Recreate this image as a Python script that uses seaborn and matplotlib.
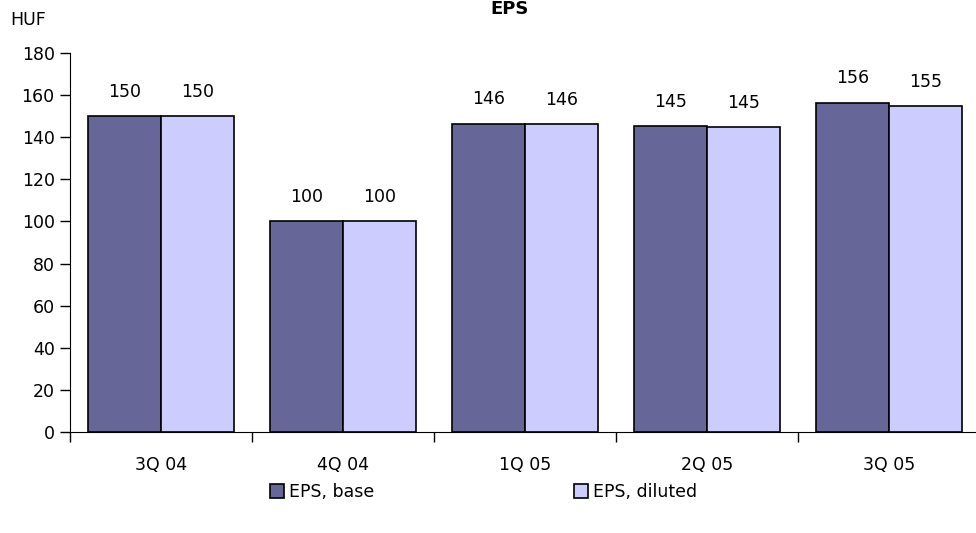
import seaborn as sns
import matplotlib.pyplot as plt
import pandas as pd

sns.set_style("ticks")
plt.rcParams['font.family'] = ['DejaVu Sans']
plt.rcParams['text.color'] = 'black'
plt.rcParams['xtick.color'] = 'black'
plt.rcParams['ytick.color'] = 'black'

# data
quarters = ["3Q 04", "4Q 04", "1Q 05", "2Q 05", "3Q 05"]
eps_base = [150.0, 100.0, 146.4, 145.4, 156.4]
eps_diluted = [150.0, 100.0, 146.3, 144.8, 154.8]
series_names = ["EPS, base", "EPS, diluted"]
colors = ["#666699", "#CCCCFF"]

df = pd.DataFrame({
    "quarter": quarters * 2,
    "value": eps_base + eps_diluted,
    "series": [series_names[0]] * len(quarters) + [series_names[1]] * len(quarters),
})

fig = plt.figure(figsize=(9.76, 5.33), dpi=100)
ax = fig.add_axes([70 / 976, 1 - 432 / 533, 910 / 976, (432 - 53) / 533])

sns.barplot(data=df, x="quarter", y="value", hue="series", palette=colors,
            width=0.8, edgecolor="black", linewidth=1.2, saturation=1, ax=ax)

# value labels
for cont in ax.containers:
    ax.bar_label(cont, labels=[f"{v:.0f}" for v in cont.datavalues],
                 padding=11, fontsize=12.5, color="black")

ax.set_ylim(0, 180)
ax.set_xlim(-0.5, len(quarters) - 0.5)
ax.set_yticks(range(0, 181, 20))
ax.set_xticks([i - 0.5 for i in range(len(quarters))], minor=False)
ax.set_xticklabels([])
ax.set_xticks(range(len(quarters)), minor=True)
ax.set_xticklabels(quarters, minor=True)
ax.tick_params(axis="x", which="major", bottom=True, direction="out", length=7, width=1)
ax.tick_params(axis="x", which="minor", bottom=False, length=0, pad=17, labelsize=12.5)
ax.tick_params(axis="y", left=True, direction="out", length=7, width=1, labelsize=12.5, pad=4)
ax.set_xlabel("")
ax.set_ylabel("")

for side in ["top", "right"]:
    ax.spines[side].set_visible(False)
ax.spines["left"].set_color("black")
ax.spines["bottom"].set_color("black")

fig.text(10 / 976, 1 - 20 / 533, "HUF", fontsize=12.5, va="center", ha="left")
fig.text(510 / 976, 1 - 9 / 533, "EPS", fontsize=13, fontweight="bold",
         va="center", ha="center")

handles, labels = ax.get_legend_handles_labels()
ax.legend(handles, labels, loc="center", bbox_to_anchor=(484 / 976, 1 - 492 / 533),
          bbox_transform=fig.transFigure, ncol=2, frameon=False, fontsize=12.5,
          handlelength=0.8, handleheight=0.8, handletextpad=0.3, columnspacing=11.5)

fig.savefig("out.png", dpi=100)
plt.close()
